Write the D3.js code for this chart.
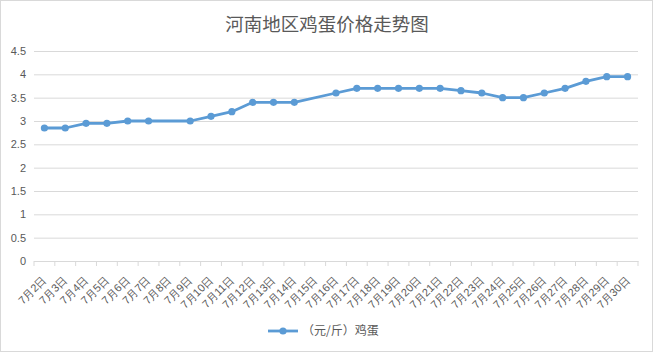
<!DOCTYPE html>
<html>
<head>
<meta charset="utf-8">
<script src="https://cdn.jsdelivr.net/npm/d3@7"></script>
<style>
  body { margin: 0; background: #fff; }
  svg { display: block; font-family: "Noto Sans CJK SC", "Noto Sans", sans-serif; }
</style>
</head>
<body>
<div id="chart"></div>
<script>
// data; 7月8日 and 7月15日 have no value
const categories = ["7月2日", "7月3日", "7月4日", "7月5日", "7月6日", "7月7日", "7月8日", "7月9日",
    "7月10日", "7月11日", "7月12日", "7月13日", "7月14日", "7月15日", "7月16日", "7月17日",
    "7月18日", "7月19日", "7月20日", "7月21日", "7月22日", "7月23日", "7月24日", "7月25日",
    "7月26日", "7月27日", "7月28日", "7月29日", "7月30日"];
const eggPrices = [2.85, 2.85, 2.95, 2.95, 3.0, 3.0, null, 3.0,
    3.1, 3.2, 3.4, 3.4, 3.4, null, 3.6, 3.7,
    3.7, 3.7, 3.7, 3.7, 3.65, 3.6, 3.5, 3.5,
    3.6, 3.7, 3.85, 3.95, 3.95];
const yTicks = [0, 0.5, 1, 1.5, 2, 2.5, 3, 3.5, 4, 4.5];
const chartTitle = "河南地区鸡蛋价格走势图";
const seriesName = "（元/斤）鸡蛋";

const width = 653, height = 352;
const margin = { top: 51, right: 15, bottom: 91, left: 34 };
const lineColor = "#5b9bd5";
const textColor = "#595959";

const svg = d3.select("#chart").append("svg")
    .attr("width", width)
    .attr("height", height);

// outer border
svg.append("rect")
    .attr("x", 0.5).attr("y", 0.5)
    .attr("width", width - 1).attr("height", height - 1)
    .attr("fill", "#fff")
    .attr("stroke", "#d9d9d9");

const xScale = d3.scaleBand()
    .domain(categories)
    .range([margin.left, width - margin.right])
    .padding(0);

const yScale = d3.scaleLinear()
    .domain([0, 4.5])
    .range([height - margin.bottom, margin.top]);

// title
svg.append("text")
    .attr("x", 327)
    .attr("y", 31)
    .attr("text-anchor", "middle")
    .attr("fill", textColor)
    .style("font-size", "18.5px")
    .text(chartTitle);

// y axis with gridlines
const yAxis = svg.append("g")
    .attr("transform", "translate(" + margin.left + ",0)")
    .call(d3.axisLeft(yScale)
        .tickValues(yTicks)
        .tickSize(-(width - margin.left - margin.right))
        .tickPadding(8)
        .tickFormat(d => d3.format("")(d)));
yAxis.select(".domain").remove();
yAxis.selectAll(".tick line").attr("stroke", "#d9d9d9");
yAxis.selectAll(".tick text")
    .attr("fill", textColor)
    .style("font-size", "11px");

// x axis
const xAxis = svg.append("g")
    .attr("transform", "translate(0," + yScale(0) + ")")
    .call(d3.axisBottom(xScale).tickSize(0).tickPadding(0));
xAxis.select(".domain").attr("stroke", "#d9d9d9");

// tick marks on band boundaries
const boundaries = categories.map(c => xScale(c)).concat([xScale.range()[1]]);
xAxis.selectAll(".bound")
    .data(boundaries)
    .enter()
    .append("line")
    .attr("class", "bound")
    .attr("x1", d => d).attr("x2", d => d)
    .attr("y1", 0).attr("y2", 5)
    .attr("stroke", "#d9d9d9");

xAxis.selectAll(".tick text")
    .attr("fill", textColor)
    .style("font-size", "11px")
    .attr("text-anchor", "end")
    .attr("dy", "0.35em")
    .attr("transform", "translate(0,17) rotate(-45)");

// line (Excel connects across the empty cells)
const points = categories
    .map((c, i) => ({ cat: c, value: eggPrices[i] }))
    .filter(d => d.value != null);

const line = d3.line()
    .x(d => xScale(d.cat) + xScale.bandwidth() / 2)
    .y(d => yScale(d.value));

svg.append("path")
    .datum(points)
    .attr("d", line)
    .attr("fill", "none")
    .attr("stroke", lineColor)
    .attr("stroke-width", 2.8)
    .attr("stroke-linejoin", "round");

svg.selectAll(".dot")
    .data(points)
    .enter()
    .append("circle")
    .attr("class", "dot")
    .attr("cx", d => xScale(d.cat) + xScale.bandwidth() / 2)
    .attr("cy", d => yScale(d.value))
    .attr("r", 3.6)
    .attr("fill", lineColor);

// legend
const legend = svg.append("g").attr("transform", "translate(268,331)");
legend.append("line")
    .attr("x1", 0).attr("x2", 30)
    .attr("stroke", lineColor)
    .attr("stroke-width", 2.8);
legend.append("circle")
    .attr("cx", 15).attr("r", 3.6)
    .attr("fill", lineColor);
legend.append("text")
    .attr("x", 34)
    .attr("dy", "0.35em")
    .attr("fill", textColor)
    .style("font-size", "12px")
    .text(seriesName);
</script>
</body>
</html>
